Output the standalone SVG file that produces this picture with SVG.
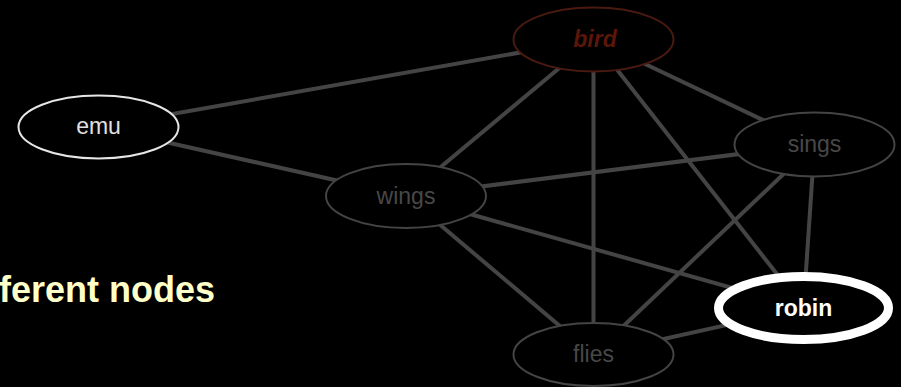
<svg xmlns="http://www.w3.org/2000/svg" width="901" height="387" viewBox="0 0 901 387">
<style>
.edge{stroke:#444;stroke-width:4;fill:none}
.node ellipse{fill:#000;stroke:#444;stroke-width:2}
.node text{font-family:"Liberation Sans",Arial,sans-serif;font-size:23px;fill:#484848;text-anchor:middle}
</style>
<rect width="901" height="387" fill="#000"/>
<text x="-1" y="302" font-family="Liberation Sans,Arial,sans-serif" font-size="36" font-weight="bold" fill="#ffffc8">ferent nodes</text>
<g id="edges">
<line class="edge" x1="98.5" y1="127" x2="593.5" y2="39.5"/>
<line class="edge" x1="98.5" y1="127" x2="406" y2="196"/>
<line class="edge" x1="593.5" y1="39.5" x2="406" y2="196"/>
<line class="edge" x1="593.5" y1="39.5" x2="593.5" y2="354.5"/>
<line class="edge" x1="593.5" y1="39.5" x2="803.5" y2="308"/>
<line class="edge" x1="593.5" y1="39.5" x2="814.5" y2="144.5"/>
<line class="edge" x1="406" y1="196" x2="814.5" y2="144.5"/>
<line class="edge" x1="406" y1="196" x2="803.5" y2="308"/>
<line class="edge" x1="406" y1="196" x2="593.5" y2="354.5"/>
<line class="edge" x1="814.5" y1="144.5" x2="593.5" y2="354.5"/>
<line class="edge" x1="814.5" y1="144.5" x2="803.5" y2="308"/>
<line class="edge" x1="593.5" y1="354.5" x2="803.5" y2="308"/>
</g>
<g id="emu" class="node"><ellipse cx="98.5" cy="127" rx="80" ry="31.5" style="stroke:#e6e6e6"/><text x="98.5" y="134" style="fill:#e0e0e0">emu</text></g>
<g id="bird" class="node"><ellipse cx="593.5" cy="39.5" rx="80" ry="32" style="stroke:#4a1a10"/><text x="595" y="47" style="fill:#5a1608;font-weight:bold;font-style:italic">bird</text></g>
<g id="wings" class="node"><ellipse cx="406" cy="196" rx="80" ry="32"/><text x="406" y="204">wings</text></g>
<g id="sings" class="node"><ellipse cx="814.5" cy="144.5" rx="80" ry="32"/><text x="814.5" y="152">sings</text></g>
<g id="flies" class="node"><ellipse cx="593.5" cy="354.5" rx="80" ry="31.5"/><text x="593.5" y="362">flies</text></g>
<g id="robin" class="node"><ellipse cx="803.5" cy="308" rx="85" ry="31.5" style="stroke:#fff;stroke-width:9"/><text x="803.5" y="315.5" style="fill:#fff;font-weight:bold">robin</text></g>
</svg>
